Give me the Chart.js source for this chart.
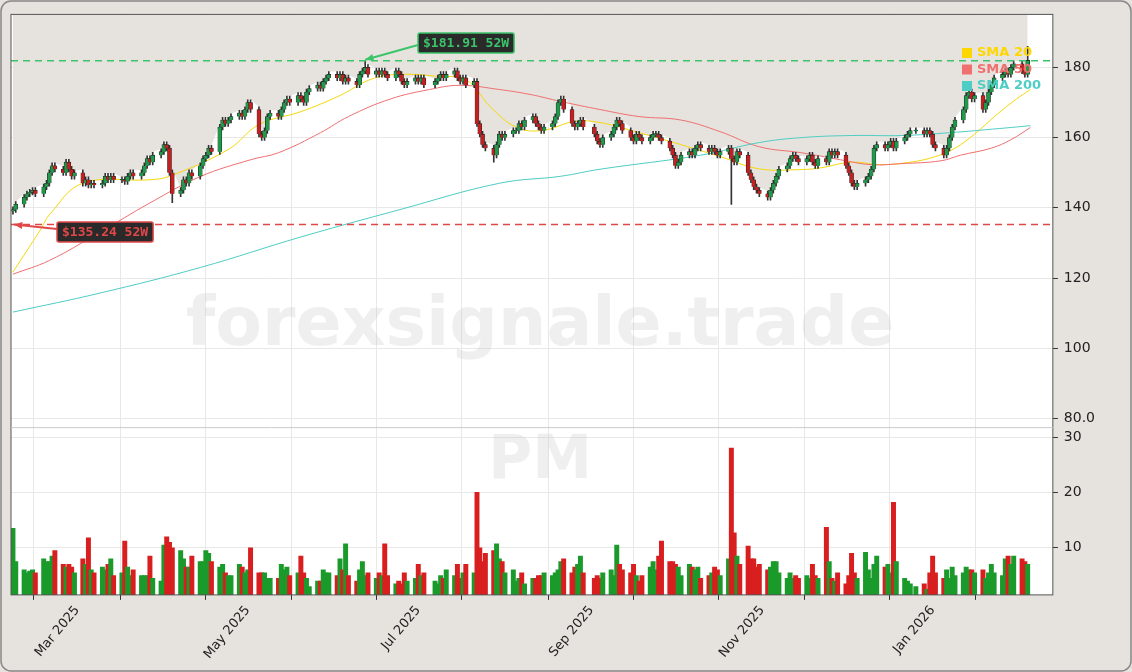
<!DOCTYPE html>
<html><head><meta charset="utf-8">
<script src="https://cdn.jsdelivr.net/npm/chart.js@4/dist/chart.umd.min.js"></script>
<style>html,body{margin:0;padding:0;background:#e6e3de;}#w{width:1132px;height:672px;position:relative}</style>
</head><body><div id="w"><canvas id="c" width="1132" height="672"></canvas></div>
<script>
const startDate = Date.UTC(2025,1,6);
const holidays = ['2025-07-04','2025-09-01','2025-12-25'];
const closes = [
139.5,141,
143,144,144.5,145,144, 146,147,150,152,151, 150,153,151,149,150,
147,148,146.5,147,146.5, 147,149,148,149,148, 148,147.5,149,150,149, 150,152,154,153,155,
156,158,157,150,144, 145,148,147,150,149, 152,154,155,157,156, 163,165,164,165,166, 167,166,168,170,168,
161,160,162,166,167, 166,168,170,171,170, 172,171,170,173,174, 175,174,176,177,178,
177,178,176,177,176, 175,178,179,180,178, 179,178,179,178,177, 179,178,176,175,176,
177,176,177,175, 176,177,178,177,178, 179,177,176,177,175, 176,164,161,158,157,
155,158,161,160,161, 162,162,164,163,165, 166,164,163,162,163, 164,166,170,171,168, 164,163,164,165,163,
161,159,158,160, 161,163,165,164,162, 160,159,161,160,159, 160,161,161,160,159,
157,155,152,153,155, 156,155,157,158,157, 156,157,156,155,156, 157,154,153,156,155, 150,148,146,145,144,
143,145,147,149,151, 152,154,155,154,153, 154,155,153,152,154, 153,156,155,156,155,
152,150,147,146,147, 148,149,151,157,158, 157,158,159,157,159, 160,161,162,162, 161,162,161,158,157,
155,157,160,163,165, 168,172,173,171,172, 168,170,173,175,177, 178,179,178,180,181, 179,178,182];
const volumes = [
13.5,7.5,
6,5.5,5.8,6,5.5, 8,7.5,7.5,8.5,9.5, 7,6.5,7,6.5,5.5,
8,7,11.8,6,5.5, 6.5,6,7,8,5, 5.5,11.2,6.5,5,6, 5,5,5,8.5,4.5,
4,10.5,12,11,10, 9.5,8,6.5,6.5,8.5, 7.5,7.5,9.5,9,7.5, 6.5,7,5.5,5,5, 7,6.5,5.5,6,10,
5.5,5.5,5.5,4.5,4.5, 4.5,7,6,6.5,5, 5.5,8.5,5.5,4.5,3, 4,4,6,5.5,5.5,
5,8,6,10.7,5, 4,6,7.5,5,5.5, 4.5,5.5,5,10.7,5, 3.5,4,3.5,5.5,4,
4.5,7,5,5.5, 4,3.5,5,4.5,6, 5,7,4.5,5.5,7, 5.5,20,10,7.5,9,
9.5,10.7,8,7.5,5.5, 6,4,4.5,5.5,3.5, 4.5,4.5,5,5,5.5, 5,5.5,6,7.5,8, 5.5,6.5,7,8.5,5.5,
4.5,5,4.5,5.5, 6,5,10.5,7,6, 5.5,7,5,4,5, 6.5,7.5,6,8.5,11.2,
7.5,7.5,7,6.5,5, 7,6.5,6,6.5,4.5, 5,5.5,6.5,6,5, 8,28,12.7,8.5,7, 10.3,8,8,6.5,7,
6,6.5,7.5,7.5,5.5, 4.5,5.5,4.5,5,4.5, 5,4.5,7,5,4.5, 13.7,7.5,4.5,4,5.5,
3.5,5,9,5.5,4.5, 9.2,6,4.5,7,8.5, 6.5,7,5.5,18.2,7.5, 4.5,4,3.5,3, 3.5,2.5,5.5,8.5,5.5,
4.5,6,4.5,6.5,5, 5.5,6.5,6,6,5.5, 6,4.5,5.5,7,5.5, 5,8,8.5,7,8.5, 8,7.5,7];
const wickExtras = {'2025-10-21':{l:141}, '2025-06-12':{h:181.91}, '2026-02-04':{h:186}, '2025-04-04':{l:141.5}, '2025-07-28':{l:153}};
const sma20Days = [0,10,13,25,49,56,77,88,103,117,128,138,153,162,171,180,189,201,210,224,239,253,267,282,289,300,310,321,330,337,344,352,359,364];
const sma20 = [121.7,134,138,147,148,149,156.6,163.7,167.4,172,176.6,178,177.4,176.6,168.6,163,162,164.6,164.3,161.4,158,154.6,151.1,150.9,151.4,153,152.3,153,154.6,157,161,166.6,171,173.7];
const sma50Days = [0,13,31,49,67,85,95,110,120,135,149,160,174,185,196,210,224,239,253,267,282,296,307,318,332,339,350,357,364];
const sma50 = [121.1,125,133,141.4,148.9,153.7,155.7,161.4,166,171,173.7,174.9,173.7,172.3,170.3,168,166,165,161.7,157.4,155.7,153.7,152.3,152.6,153.4,155,157,159.4,162.9];
const sma200Days = [0,31,67,103,138,174,196,210,246,267,282,300,318,335,353,364];
const sma200 = [110.3,115.7,123,131.7,139.4,147,149,151,155,158.6,160,160.6,160.6,161.4,162.6,163.4];
const hi52 = 181.91, lo52 = 135.24;
const priceTicks = [80,100,120,140,160,180];
const volTicks = [10,20,30];
const monthTicks = ['2025-03-01','2025-04-01','2025-05-01','2025-06-01','2025-07-01','2025-08-01','2025-09-01','2025-10-01','2025-11-01','2025-12-01','2026-01-01','2026-02-01'];
const monthNames = ['Jan','Feb','Mar','Apr','May','Jun','Jul','Aug','Sep','Oct','Nov','Dec'];

function dayOf(s){const [y,m,d]=s.split('-').map(Number);return (Date.UTC(y,m-1,d)-startDate)/864e5;}
function iso(t){return new Date(t).toISOString().slice(0,10);}
const n = Math.min(closes.length, volumes.length);
const dates=[]; let t=startDate;
while(dates.length<n){const dw=new Date(t).getUTCDay(); const s=iso(t); if(dw!==0&&dw!==6&&!holidays.includes(s)) dates.push(s); t+=864e5;}
const wicks=[],bodies=[],vols=[],highs=[];
for(let i=0;i<n;i++){
  const x=dayOf(dates[i]); const c=closes[i]; const o=i?closes[i-1]:139;
  const ex=wickExtras[dates[i]]||{};
  const h=ex.h??Math.max(o,c)+0.8, l=ex.l??Math.min(o,c)-0.8;
  const up=c>=o;
  wicks.push({x,y:[l,h],up}); bodies.push({x,y:[Math.abs(c-o)<0.3?o-0.15:o, Math.abs(c-o)<0.3?o+0.15:c],up});
  vols.push({x,y:volumes[i],up}); highs.push({x,y:h});
}
const G='#1a9a2a',R='#d81e1e';
const pts=(d,v)=>d.map((x,i)=>({x,y:v[i]}));
const monthDays=monthTicks.map(dayOf);

const deco={id:'deco',
 beforeDraw(ch){const c=ch.ctx,a=ch.chartArea;c.save();c.fillStyle='#e6e3de';c.fillRect(0,0,ch.width,ch.height);
  c.strokeStyle='#888';c.lineWidth=1.5;c.beginPath();c.roundRect(1,1,ch.width-2,ch.height-2,10);c.stroke();
  c.fillStyle='#fff';c.fillRect(a.left,a.top,a.right-a.left,a.bottom-a.top);c.restore();},
 beforeDatasetsDraw(ch){const c=ch.ctx,a=ch.chartArea;c.save();c.textAlign='center';c.textBaseline='middle';
  c.fillStyle='rgba(190,190,190,0.25)';c.font='bold 68px "DejaVu Sans"';c.fillText('forexsignale.trade',540,327);
  c.font='bold 60px "DejaVu Sans"';c.fillText('PM',540,462);c.restore();},
 afterDatasetsDraw(ch){const c=ch.ctx,a=ch.chartArea,y=ch.scales.y,x=ch.scales.x;c.save();
  c.setLineDash([7,5]);c.lineWidth=1.5;
  const yh=y.getPixelForValue(hi52), yl=y.getPixelForValue(lo52);
  c.strokeStyle='#3cc46b';c.beginPath();c.moveTo(a.left,yh);c.lineTo(a.right,yh);c.stroke();
  c.strokeStyle='#e04848';c.beginPath();c.moveTo(a.left,yl);c.lineTo(a.right,yl);c.stroke();
  c.setLineDash([]);
  function label(txt,bx,by,col,ax,ay,fx,fy){
    c.strokeStyle=col;c.lineWidth=2;c.beginPath();c.moveTo(fx,fy);c.lineTo(ax,ay);c.stroke();
    const ang=Math.atan2(ay-fy,ax-fx);c.fillStyle=col;c.beginPath();c.moveTo(ax,ay);
    c.lineTo(ax-9*Math.cos(ang-0.4),ay-9*Math.sin(ang-0.4));c.lineTo(ax-9*Math.cos(ang+0.4),ay-9*Math.sin(ang+0.4));c.fill();
    c.font='bold 13px "DejaVu Sans Mono"';const w=c.measureText(txt).width+10;
    c.fillStyle='#2a2a2a';c.beginPath();c.roundRect(bx,by-10,w,20,2);c.fill();c.strokeStyle=col;c.lineWidth=1.5;c.stroke();
    c.fillStyle=col;c.textBaseline='middle';c.fillText(txt,bx+5,by+1);}
  const hx=x.getPixelForValue(dayOf('2025-06-12'));
  label('$181.91 52W',418,43,'#3cc46b',hx,yh-1,418,45);
  label('$135.24 52W',57,232,'#e04848',a.left+3,yl,57,229);
  const L=[['SMA 20','#ffd700'],['SMA 50','#f07070'],['SMA 200','#4ecdc4']];
  c.font='bold 13px "DejaVu Sans"';c.textBaseline='middle';
  L.forEach((l,i)=>{const yy=53+i*16.5;c.fillStyle=l[1];c.fillRect(962,yy-5,10,10);c.fillText(l[0],977,yy);});
  c.strokeStyle='#555';c.lineWidth=1;c.strokeRect(a.left,a.top,a.right-a.left,a.bottom-a.top);
  const yb=ch.scales.yv.top;c.strokeStyle='#ccc';c.beginPath();c.moveTo(a.left,yb);c.lineTo(a.right,yb);c.stroke();
  c.restore();}
};

new Chart(document.getElementById('c'),{
 data:{datasets:[
  {type:'line',data:highs,yAxisID:'y',borderWidth:0,pointRadius:0,fill:'end',backgroundColor:'#e6e3de',order:10},
  {type:'line',data:pts(sma200Days,sma200),yAxisID:'y',borderColor:'#4ecdc4',borderWidth:1,pointRadius:0,tension:0.4,order:3},
  {type:'line',data:pts(sma50Days,sma50),yAxisID:'y',borderColor:'#f07070',borderWidth:1,pointRadius:0,tension:0.4,order:3},
  {type:'line',data:pts(sma20Days,sma20),yAxisID:'y',borderColor:'#f5d90a',borderWidth:1,pointRadius:0,tension:0.4,order:3},
  {type:'bar',data:wicks,yAxisID:'y',barThickness:1,grouped:false,backgroundColor:'#333',order:2},
  {type:'bar',data:bodies,yAxisID:'y',barThickness:4,grouped:false,borderWidth:0.6,borderColor:'#222',backgroundColor:c=>c.raw&&c.raw.up?'#1e9a4a':'#c42020',order:1},
  {type:'bar',data:vols,yAxisID:'yv',barThickness:4.3,grouped:false,backgroundColor:c=>c.raw&&c.raw.up?G:R,order:1}
 ]},
 options:{responsive:false,animation:false,parsing:{xAxisKey:'x',yAxisKey:'y'},
  layout:{padding:{left:11,right:31,top:3,bottom:7}},
  plugins:{legend:{display:false},tooltip:{enabled:false}},
  scales:{
   x:{type:'linear',min:-0.7,max:372,offset:false,
     afterBuildTicks(s){s.ticks=monthDays.map(v=>({value:v}));},
     ticks:{autoSkip:false,maxRotation:50,minRotation:50,color:'#222',font:{family:'DejaVu Sans',size:13},
       callback(v,i){const m=monthTicks[i];if(!m)return '';const mm=+m.slice(5,7);return mm%2===1?monthNames[mm-1]+' '+m.slice(0,4):'';}},
     grid:{color:'#e8e8e8',drawTicks:true,tickLength:5,tickColor:'#333'},border:{display:false}},
   y:{position:'right',stack:'s',stackWeight:415,min:77.4,max:195.1,
     afterBuildTicks(s){s.ticks=priceTicks.map(v=>({value:v}));},
     ticks:{color:'#222',font:{family:'DejaVu Sans',size:14},padding:6,callback:v=>v===80?'80.0':String(v)},
     grid:{color:'#e8e8e8',tickLength:5,tickColor:'#333'},border:{display:false}},
   yv:{position:'right',stack:'s',stackWeight:168,min:1.5,max:31.7,
     afterBuildTicks(s){s.ticks=volTicks.map(v=>({value:v}));},
     ticks:{color:'#222',font:{family:'DejaVu Sans',size:14},padding:6},
     grid:{color:'#e8e8e8',tickLength:5,tickColor:'#333'},border:{display:false}}
  }},
 plugins:[deco]
});
</script></body></html>
